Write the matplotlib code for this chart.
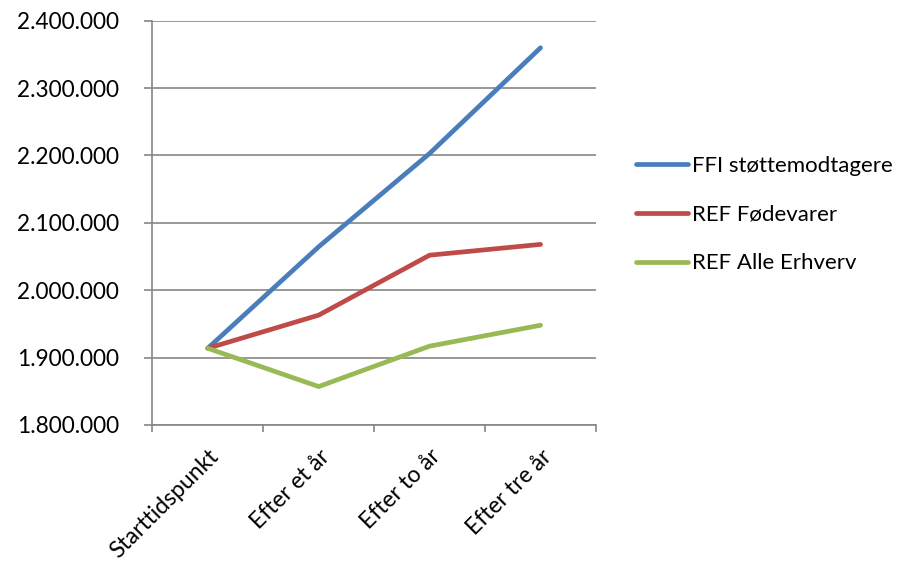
import matplotlib
matplotlib.use("Agg")
import matplotlib.pyplot as plt
from matplotlib.ticker import FuncFormatter, FixedLocator

plt.rcParams['font.family'] = ['Lato', 'DejaVu Sans']

categories = ["Starttidspunkt", "Efter et år", "Efter to år", "Efter tre år"]
ffi_stotte = [1913800, 2064500, 2203000, 2359800]
ref_fodevarer = [1913800, 1963000, 2052000, 2068000]
ref_alle = [1913800, 1857000, 1917000, 1948000]
series_names = ["FFI støttemodtagere", "REF Fødevarer", "REF Alle Erhverv"]
colors = ["#4A7EBB", "#BE4B48", "#98B954"]

fig = plt.figure(figsize=(9.12, 5.64), dpi=100)
ax = fig.add_axes([0.167, 0.2465, 0.4865, 0.7168])

x = list(range(len(categories)))
for vals, name, c in zip([ffi_stotte, ref_fodevarer, ref_alle], series_names, colors):
    ax.plot(x, vals, color=c, lw=3.4, label=name, solid_capstyle='round',
            solid_joinstyle='round')

grid_c = "#868686"
ax.set_ylim(1800000, 2400000)
ax.set_yticks(range(1800000, 2400001, 100000))
ax.yaxis.set_major_formatter(FuncFormatter(lambda v, p: f"{int(v):,}".replace(",", ".")))
ax.set_xlim(-0.5, len(categories) - 0.5)
ax.set_xticks(x)
ax.set_xticklabels(categories, rotation=45, ha='right', va='top', rotation_mode='anchor')
ax.xaxis.set_minor_locator(FixedLocator([i - 0.5 for i in range(len(categories) + 1)]))
ax.tick_params(axis='x', which='major', length=0, pad=15, labelsize=16.5)
ax.tick_params(axis='x', which='minor', length=5, color=grid_c, width=1.2, direction='out')
ax.tick_params(axis='y', length=6, color=grid_c, width=1.2, labelsize=16.3, pad=18)

ax.grid(axis='y', color=grid_c, lw=1.2)
ax.set_axisbelow(True)
for s in ['top', 'right']:
    ax.spines[s].set_visible(False)
for s in ['left', 'bottom']:
    ax.spines[s].set_color(grid_c)
    ax.spines[s].set_linewidth(1.2)

leg = fig.legend(loc='upper left', bbox_to_anchor=(0.697, 0.724), frameon=False,
                 fontsize=16, handlelength=2.35, handletextpad=0.2, labelspacing=1.3,
                 borderaxespad=0, borderpad=0)
for line in leg.get_lines():
    line.set_linewidth(3.4)

fig.savefig("out.png", dpi=100)
